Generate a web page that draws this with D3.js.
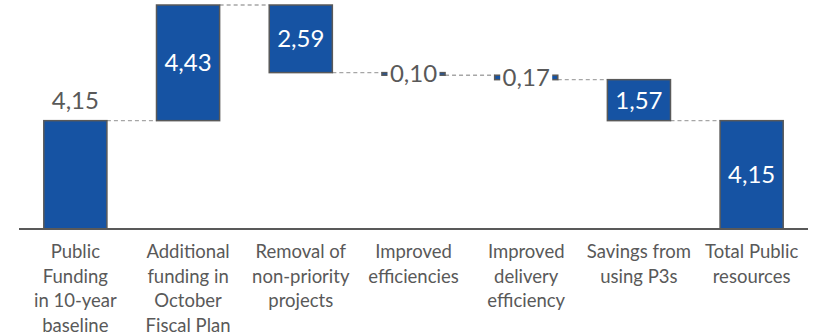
<!DOCTYPE html>
<html>
<head>
<meta charset="utf-8">
<script src="https://cdn.jsdelivr.net/npm/d3@7"></script>
<style>
  html, body { margin: 0; padding: 0; background: #fff; }
  svg { display: block; font-family: Lato, "Open Sans", sans-serif; }
</style>
</head>
<body>
<svg id="chart" width="816" height="336"></svg>
<script>
// Waterfall: public funding walk (billions)
const categories = [
  ["Public", "Funding", "in 10-year", "baseline"],
  ["Additional", "funding in", "October", "Fiscal Plan"],
  ["Removal of", "non-priority", "projects"],
  ["Improved", "efficiencies"],
  ["Improved", "delivery", "efficiency"],
  ["Savings from", "using P3s"],
  ["Total Public", "resources"]
];
const values = [4.15, 4.43, -2.59, -0.10, -0.17, -1.57, 4.15];
const kinds = ["total", "delta", "delta", "delta", "delta", "delta", "total"];
const valueLabels = ["4,15", "4,43", "2,59", "0,10", "0,17", "1,57", "4,15"];

const W = 816, H = 336;
const baseY = 229;

// Build start/end of each step
let running = 0;
const steps = values.map((v, i) => {
  let s, e;
  if (kinds[i] === "total") { s = 0; e = v; running = v; }
  else { s = running; e = running + v; running = e; }
  return { i, s, e, lo: Math.min(s, e), hi: Math.max(s, e), label: valueLabels[i] };
});

const maxTop = d3.max(steps, d => d.hi);

const x = d3.scaleBand()
  .domain(d3.range(categories.length))
  .range([19, 808])
  .paddingInner(0.44)
  .paddingOuter(0.22);

const y = d3.scaleLinear().domain([0, maxTop]).range([baseY, 5]);

const svg = d3.select("#chart");

// Dashed connectors at the level where each step ends
const conn = [];
for (let k = 0; k < steps.length - 1; k++) {
  conn.push({ x1: x(k) + x.bandwidth(), x2: x(k + 1), y: y(steps[k].e) });
}
svg.append("g").selectAll("line").data(conn).join("line")
  .attr("x1", d => d.x1).attr("x2", d => d.x2)
  .attr("y1", d => d.y).attr("y2", d => d.y)
  .attr("stroke", "#a6a6a6").attr("stroke-width", 1.3)
  .attr("stroke-dasharray", "4,3");

// Bars
svg.append("g").selectAll("rect").data(steps).join("rect")
  .attr("x", d => x(d.i))
  .attr("width", x.bandwidth())
  .attr("y", d => y(d.hi))
  .attr("height", d => y(d.lo) - y(d.hi))
  .attr("fill", "#1653a3")
  .attr("stroke", "#595959")
  .attr("stroke-width", 1.5);

// Axis baseline
svg.append("line")
  .attr("x1", x.range()[0]).attr("x2", x.range()[1])
  .attr("y1", baseY).attr("y2", baseY)
  .attr("stroke", "#595959").attr("stroke-width", 2);

// Value labels
const labG = svg.append("g");
steps.forEach(d => {
  const cx = x(d.i) + x.bandwidth() / 2;
  const hPx = y(d.lo) - y(d.hi);
  if (d.i === 0) {
    labG.append("text").attr("x", cx).attr("y", y(d.hi) - 12)
      .attr("text-anchor", "middle").attr("font-size", 24)
      .attr("fill", "#595959").text(d.label);
  } else if (hPx > 30) {
    labG.append("text").attr("x", cx).attr("y", (y(d.lo) + y(d.hi)) / 2 + 8.5)
      .attr("text-anchor", "middle").attr("font-size", 24)
      .attr("fill", "#ffffff").text(d.label);
  } else {
    const cy = (y(d.lo) + y(d.hi)) / 2;
    labG.append("rect").attr("x", cx - 26).attr("y", cy - 14)
      .attr("width", 52).attr("height", 28).attr("fill", "#ffffff");
    labG.append("text").attr("x", cx).attr("y", cy + 8.5)
      .attr("text-anchor", "middle").attr("font-size", 24)
      .attr("fill", "#595959").text(d.label);
  }
});

// Category labels
const catG = svg.append("g");
categories.forEach((lines, i) => {
  const t = catG.append("text")
    .attr("x", x(i) + x.bandwidth() / 2)
    .attr("y", 258)
    .attr("text-anchor", "middle")
    .attr("font-size", 18.5)
    .attr("fill", "#595959");
  lines.forEach((ln, j) => {
    t.append("tspan").attr("x", x(i) + x.bandwidth() / 2)
      .attr("dy", j === 0 ? 0 : 24.7).text(ln);
  });
});
</script>
</body>
</html>
